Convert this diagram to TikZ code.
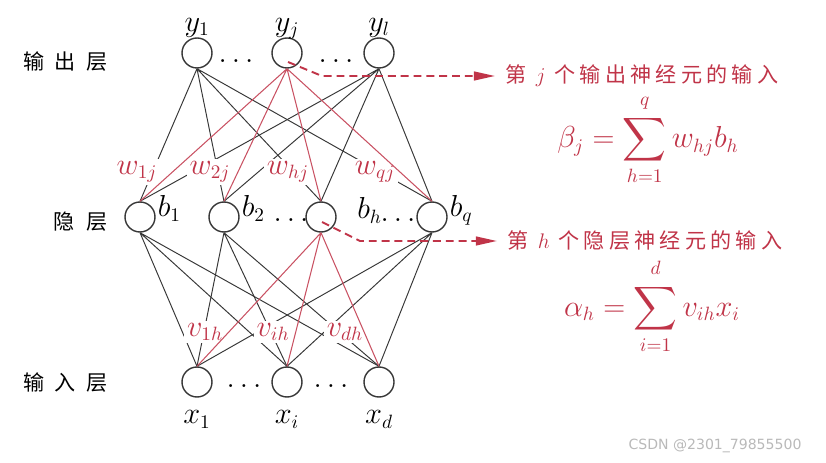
\documentclass[tikz,border=0pt]{standalone}
\usepackage{fontspec}
\usepackage{amsmath}
\usetikzlibrary{arrows.meta}
\newfontfamily\cjk[LetterSpace=20]{Noto Sans CJK SC}
\newfontfamily\cjkplain{Noto Sans CJK SC}
\newfontfamily\wmfont{DejaVu Sans}
\definecolor{nnred}{RGB}{192,52,72}
\definecolor{nngray}{RGB}{55,55,55}
\newcommand{\uplim}[1]{\raisebox{2.5pt}{$\scriptstyle #1$}}
\tikzset{
	neuron/.style={shape=circle, draw=nngray, line width=0.8pt, minimum size=0.6cm, inner sep=0pt},
	mlbl/.style={font=\fontsize{16}{19}\selectfont, inner sep=1pt},
	wlbl/.style={mlbl, text=nnred, fill=white, inner sep=1.5pt},
	layer/.style={font=\fontsize{12}{14}\selectfont\cjkplain, anchor=east, inner sep=0pt},
	note/.style={font=\fontsize{12}{14}\selectfont\cjk, text=nnred, inner sep=0.5pt},
	conn/.style={draw=nngray, line width=0.55pt},
	hot/.style={draw=nnred!85, line width=0.6pt},
	hint/.style={draw=nnred, line width=1.1pt, dash pattern={on 4.5pt off 2.8pt}, shorten >=5.5pt, -{Triangle[length=12pt,width=5pt]}},
}

\begin{document}
\begin{tikzpicture}
			\useasboundingbox (0, 0) rectangle (16.52, 9.24);
			\node[neuron](y1) at (3.94, 8.18){};
			\node[neuron](yj) at (5.74, 8.18){};
			\node[neuron](yl) at (7.58, 8.18){};
			\node[neuron](b1) at (2.80, 4.90){};
			\node[neuron](b2) at (4.48, 4.90){};
			\node[neuron](bh) at (6.42, 4.90){};
			\node[neuron](bq) at (8.64, 4.90){};
			\node[neuron](x1) at (3.94, 1.60){};
			\node[neuron](xi) at (5.74, 1.60){};
			\node[neuron](xd) at (7.58, 1.60){};
			\node[mlbl, anchor=base](Ly1) at ([yshift=0.12cm]y1.north){$y_1$};
			\node[mlbl, anchor=base](Lyj) at ([yshift=0.12cm]yj.north){$y_j$};
			\node[mlbl, anchor=base](Lyl) at ([yshift=0.12cm]yl.north){$y_l$};
			\node[mlbl, anchor=base west](Lb1) at (b1.east){$b_1$};
			\node[mlbl, anchor=base west](Lb2) at (b2.east){$b_2$};
			\node[mlbl, anchor=base west](Lbh) at ([xshift=0.37cm, yshift=-0.04cm]bh.east){$b_h$};
			\node[mlbl, anchor=base west](Lbq) at (bq.east){$b_q$};
			\node[mlbl, anchor=base](Lx1) at ([yshift=-0.52cm]x1.south){$x_1$};
			\node[mlbl, anchor=base](Lxi) at ([yshift=-0.52cm]xi.south){$x_i$};
			\node[mlbl, anchor=base](Lxd) at ([yshift=-0.52cm]xd.south){$x_d$};
			\node[mlbl, anchor=base](D1) at (4.72, 7.98){$\ldots$};
			\node[mlbl, anchor=base](D2) at (6.72, 7.98){$\ldots$};
			\node[mlbl, anchor=base](D3) at (5.82, 4.80){$\ldots$};
			\node[mlbl, anchor=base](D4) at (7.96, 4.80){$\ldots$};
			\node[mlbl, anchor=base](D5) at (4.88, 1.50){$\ldots$};
			\node[mlbl, anchor=base](D6) at (6.62, 1.50){$\ldots$};
			\node[layer](Lout) at (2.16, 8.00){输\hspace{6pt}出\hspace{6pt}层};
			\node[layer](Lhid) at (2.16, 4.80){隐\hspace{7pt}层};
			\node[layer](Lin) at (2.16, 1.58){输\hspace{6pt}入\hspace{6pt}层};
			\draw[conn] (y1.south) -- (b1.north) (y1.south) -- (b2.north) (y1.south) -- (bh.north) (y1.south) -- (bq.north);
			\draw[conn] (yl.south) -- (b1.north) (yl.south) -- (b2.north) (yl.south) -- (bh.north) (yl.south) -- (bq.north);
			\draw[conn] (b1.south) -- (x1.north) (b1.south) -- (xi.north) (b1.south) -- (xd.north);
			\draw[conn] (b2.south) -- (x1.north) (b2.south) -- (xi.north) (b2.south) -- (xd.north);
			\draw[conn] (bq.south) -- (x1.north) (bq.south) -- (xi.north) (bq.south) -- (xd.north);
			\node[wlbl](W1) at (2.74, 5.80){$w_{1j}$};
			\node[wlbl](W2) at (4.20, 5.80){$w_{2j}$};
			\node[wlbl](Wh) at (5.76, 5.80){$w_{hj}$};
			\node[wlbl](Wq) at (7.50, 5.80){$w_{qj}$};
			\node[wlbl](V1) at (4.10, 2.60){$v_{1h}$};
			\node[wlbl](Vi) at (5.46, 2.60){$v_{ih}$};
			\node[wlbl](Vd) at (6.90, 2.60){$v_{dh}$};
			\draw[hot] (yj.south) -- (b1.north) (yj.south) -- (b2.north) (yj.south) -- (bh.north) (yj.south) -- (bq.north);
			\draw[hot] (bh.south) -- (x1.north) (bh.south) -- (xi.north) (bh.south) -- (xd.north);
			\node[note](T1) at (12.84, 7.72){第 $j$ 个输出神经元的输入};
			\node[mlbl, text=nnred, inner sep=0pt](F1) at (12.96, 6.44){$\displaystyle \beta_j=\sum_{h=1}^{\uplim{q}} w_{hj}b_h$};
			\node[note](T2) at (12.90, 4.42){第 $h$ 个隐层神经元的输入};
			\node[mlbl, text=nnred, inner sep=0pt](F2) at (13.04, 3.12){$\displaystyle \alpha_h=\sum_{i=1}^{\uplim{d}} v_{ih}x_i$};
			\coordinate (Kj) at (6.44, 7.72);
			\coordinate (Kh) at (7.20, 4.42);
			\draw[hint] ([xshift=0.02cm, yshift=-0.18cm]yj.center) -- (Kj) -- (T1.west);
			\draw[hint] ([xshift=0.02cm, yshift=-0.10cm]bh.center) -- (Kh) -- (T2.west);
			\node[font=\fontsize{8}{10}\selectfont\wmfont, text=gray!55](WM) at (14.30, 0.32){CSDN @2301\_79855500};
		\end{tikzpicture}
\end{document}
